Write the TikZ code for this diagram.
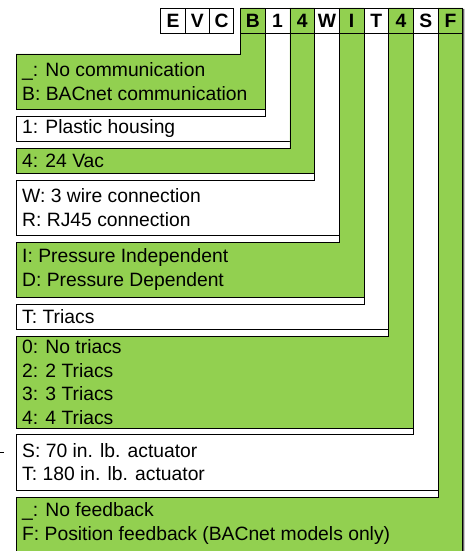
\documentclass[tikz,border=0pt]{standalone}
\usepackage{fontspec}
\setmainfont{Liberation Sans}
\definecolor{codegreen}{RGB}{146, 208, 80}
\definecolor{shadowgray}{RGB}{105, 105, 105}

\begin{document}
\begin{tikzpicture}[x=1pt, y=-1pt,
  codecell/.style={draw, line width=0.8pt, minimum width=24.7pt, minimum height=25pt, inner sep=0pt, font=\fontsize{19.3}{23}\selectfont\bfseries},
  optshape/.style={draw, line width=0.8pt},
  opttext/.style={anchor=west, inner sep=0pt, align=left, font=\fontsize{19.3}{23.5}\selectfont}]
  \useasboundingbox (0,0) rectangle (466,551);
  \clip (0,0) rectangle (466,551);

  % Option shapes: band down from the code letter, box to the left
  \foreach \i/\fillc/\top/\bot in {0/codegreen/54/109, 1/white/116/141, 2/codegreen/148/173, 3/white/180/235, 4/codegreen/242/297, 5/white/304/329, 6/codegreen/336/428, 7/white/434/490, 8/codegreen/497/570} {
    \pgfmathsetmacro{\xl}{240.5+24.7*\i}
    \pgfmathsetmacro{\xr}{\xl+24.7}
    \fill[shadowgray, shift={(1.5,0.8)}] (\xl,8) -- (\xr,8) -- (\xr,\bot) -- (16,\bot) -- (16,\top) -- (\xl,\top) -- cycle;
    \draw[optshape, fill=\fillc] (\xl,8) -- (\xr,8) -- (\xr,\bot) -- (16,\bot) -- (16,\top) -- (\xl,\top) -- cycle;
  }

  % Code row
  \foreach \ch [count=\k from 0] in {E,V,C}
    \node[codecell, fill=white] (pre\k) at (173.1+24.2*\k, 20.5) {\ch};
  \foreach \ch [count=\k from 0] in {B,1,4,W,I,T,4,S,F}
    \node[codecell] (cell\k) at (252.85+24.7*\k, 20.5) {\ch};

  % Option texts
  \node[opttext] (optB) at (22, 81.5) {\_: No communication\\B: BACnet communication};
  \node[opttext] (optHousing) at (22, 128.5) {1: Plastic housing};
  \node[opttext] (optPower) at (22, 160.5) {4: 24 Vac};
  \node[opttext] (optWire) at (22, 207.5) {W: 3 wire connection\\R: RJ45 connection};
  \node[opttext] (optPressure) at (22, 269.5) {I: Pressure Independent\\D: Pressure Dependent};
  \node[opttext] (optTriacs) at (22, 316.5) {T: Triacs};
  \node[opttext] (optCount) at (22, 382) {0: No triacs\\2: 2 Triacs\\3: 3 Triacs\\4: 4 Triacs};
  \node[opttext] (optActuator) at (22, 462) {S: 70 in. lb. actuator\\T: 180 in. lb. actuator};
  \node[opttext] (optFeedback) at (22, 523.5) {\_: No feedback\\F: Position feedback (BACnet models only)};

  % Stray tick at the left
  \draw[line width=0.8pt] (0,452) -- (3.5,452);
\end{tikzpicture}
\end{document}
